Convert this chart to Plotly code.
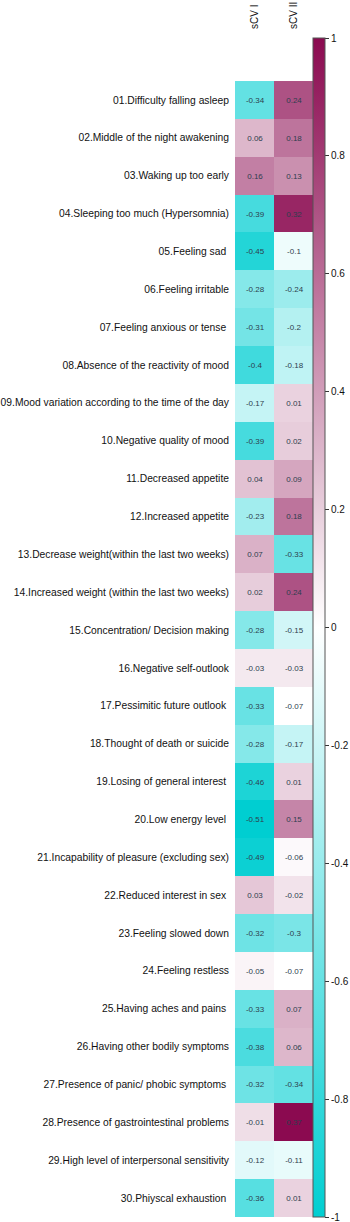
import plotly.graph_objects as go

labels = [
    "01.Difficulty falling asleep",
    "02.Middle of the night awakening",
    "03.Waking up too early",
    "04.Sleeping too much (Hypersomnia)",
    "05.Feeling sad ",
    "06.Feeling irritable",
    "07.Feeling anxious or tense ",
    "08.Absence of the reactivity of mood",
    "09.Mood variation according to the time of the day",
    "10.Negative quality of mood",
    "11.Decreased appetite",
    "12.Increased appetite",
    "13.Decrease weight(within the last two weeks)",
    "14.Increased weight (within the last two weeks)",
    "15.Concentration/ Decision making",
    "16.Negative self-outlook",
    "17.Pessimitic future outlook ",
    "18.Thought of death or suicide",
    "19.Losing of general interest ",
    "20.Low energy level ",
    "21.Incapability of pleasure (excluding sex)",
    "22.Reduced interest in sex ",
    "23.Feeling slowed down",
    "24.Feeling restless",
    "25.Having aches and pains ",
    "26.Having other bodily symptoms",
    "27.Presence of panic/ phobic symptoms ",
    "28.Presence of gastrointestinal problems",
    "29.High level of interpersonal sensitivity",
    "30.Phiyscal exhaustion ",
]
columns = ["sCV I", "sCV II"]

scv1 = [-0.34, 0.06, 0.16, -0.39, -0.45, -0.28, -0.31, -0.4, -0.17, -0.39,
        0.04, -0.23, 0.07, 0.02, -0.28, -0.03, -0.33, -0.28, -0.46, -0.51,
        -0.49, 0.03, -0.32, -0.05, -0.33, -0.38, -0.32, -0.01, -0.12, -0.36]
scv2 = [0.24, 0.18, 0.13, 0.32, -0.1, -0.24, -0.2, -0.18, 0.01, 0.02,
        0.09, 0.18, -0.33, 0.24, -0.15, -0.03, -0.07, -0.17, 0.01, 0.15,
        -0.06, -0.02, -0.3, -0.07, 0.07, 0.06, -0.34, 0.37, -0.11, 0.01]

colorbar_ticks = [-1, -0.8, -0.6, -0.4, -0.2, 0, 0.2, 0.4, 0.6, 0.8, 1]

cscale = [[0.0, "#00CED1"], [0.5, "#FFFFFF"], [1.0, "#8B0A50"]]

z = [[a, b] for a, b in zip(scv1, scv2)]
txt = [[f"{a:g}", f"{b:g}"] for a, b in zip(scv1, scv2)]
allv = scv1 + scv2

fig = go.Figure()
fig.add_trace(go.Heatmap(
    x=columns, y=labels, z=z, text=txt, texttemplate="%{text}",
    textfont=dict(family="Liberation Sans", size=8, color="#2E3E4E"),
    colorscale=cscale, zmin=min(allv), zmax=max(allv), showscale=False,
    xgap=0, ygap=0, hoverinfo="skip",
))
fig.add_trace(go.Scatter(
    x=[columns[0]], y=[labels[0]], mode="markers", hoverinfo="skip",
    showlegend=False,
    marker=dict(size=0.1, opacity=0, color=[0], cmin=-1, cmax=1,
                colorscale=cscale, showscale=True,
                colorbar=dict(
                    x=1.0, xanchor="left", xpad=0, y=0.5, yanchor="middle",
                    len=1, lenmode="fraction", ypad=0, thickness=12,
                    outlinecolor="#555555", outlinewidth=1,
                    ticks="outside", ticklen=4, tickcolor="#333333",
                    tickvals=colorbar_ticks,
                    ticktext=[f"{v:g}" for v in colorbar_ticks],
                    ticklabeloverflow="allow",
                    tickfont=dict(family="Liberation Sans", size=10, color="#111111"),
                )),
))
fig.update_layout(
    width=350, height=1222,
    margin=dict(l=235, r=37, t=38, b=5, pad=0, autoexpand=False),
    paper_bgcolor="white", plot_bgcolor="white",
    font=dict(family="Liberation Sans", color="#111111"),
)
fig.update_xaxes(side="top", tickangle=-90, showgrid=False, zeroline=False,
                 showline=False, ticks="", ticklabelstandoff=8, automargin=False,
                 tickfont=dict(size=10, color="#111111"),
                 categoryorder="array", categoryarray=columns)
fig.update_yaxes(autorange="reversed", showgrid=False, zeroline=False,
                 showline=False, ticks="", ticklabelstandoff=5, automargin=False,
                 tickfont=dict(size=10.3, color="#111111"),
                 categoryorder="array", categoryarray=labels)

fig.write_html(
    "out.html",
    config={"displayModeBar": False},
    post_script="document.body.style.margin='0';document.body.style.padding='0';",
)
